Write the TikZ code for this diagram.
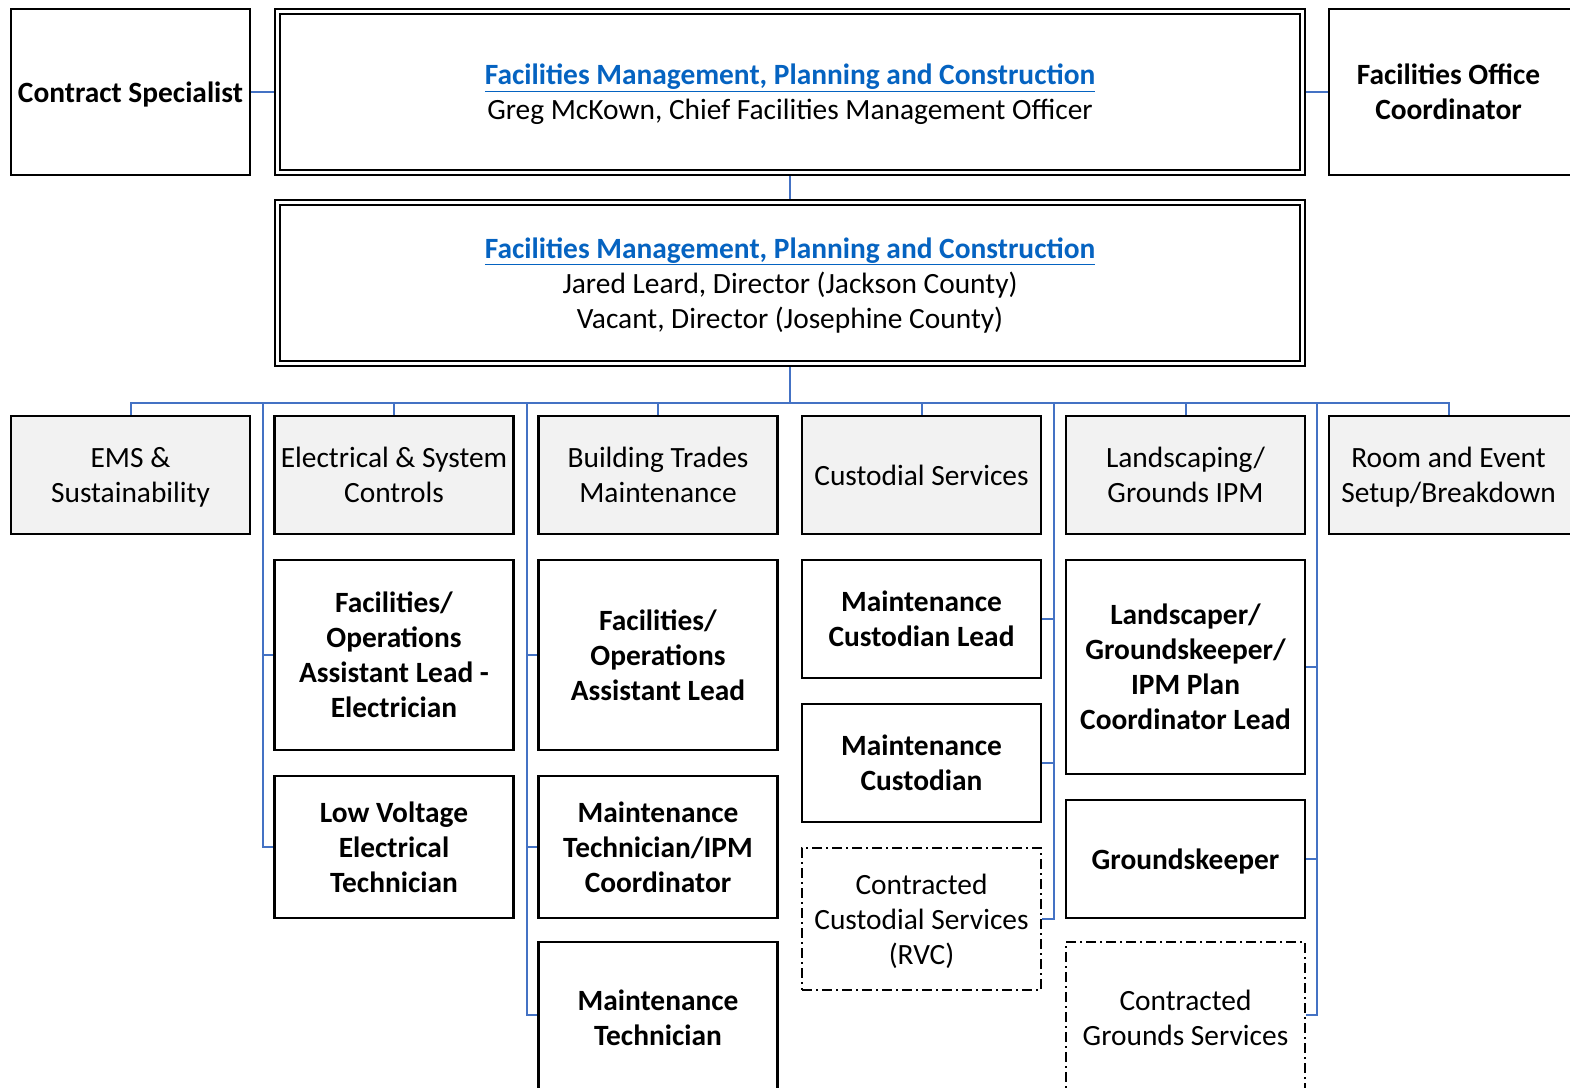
\documentclass[tikz,border=0pt]{standalone}
\usepackage{fontspec}
\setmainfont{Carlito}
\usetikzlibrary{backgrounds}
\definecolor{linkblue}{HTML}{0563C1}
\definecolor{conblue}{HTML}{4472C4}
\definecolor{boxgray}{HTML}{F2F2F2}
\newcommand{\linktext}[1]{\textcolor{linkblue}{\underline{\textbf{#1}}}}
\newcommand{\tl}[1]{\raisebox{0pt}[\dimexpr\height+6pt\relax]{\begin{tabular}{@{}c@{}}#1\end{tabular}}}
\newcommand{\leftpart}[1]{\makebox[239pt]{\tl{#1}}\hspace*{31pt}}
\begin{document}
\begin{tikzpicture}[x=1pt,y=-1pt,
  every node/.style={font=\fontsize{29.4}{35}\selectfont, inner sep=0pt},
  box/.style={draw=black, line width=2.5pt, fill=white, minimum width=239pt},
  graybox/.style={box, fill=boxgray, minimum height=118pt},
  boldtext/.style={font=\fontsize{29.4}{35}\selectfont\bfseries},
  dashbox/.style={box, line width=2pt, dash pattern=on 10pt off 4pt on 2pt off 4pt},
  mainbox/.style={draw=black, line width=2pt, double=white, double distance=3pt, fill=white, minimum width=1025pt, minimum height=161pt},
  con/.style={draw=conblue, line width=2pt},
]
\useasboundingbox (0,0) rectangle (1570,1087);

% top row
\node[box, boldtext, minimum height=166pt] (cs) at (130.5,92) {\tl{Contract Specialist}};
\node[mainbox] (m1) at (790,92) {\tl{\linktext{Facilities Management, Planning and Construction}\\Greg McKown, Chief Facilities Management Officer}};
\node[box, boldtext, minimum height=166pt, minimum width=270pt] (foc) at (1464,92) {\leftpart{Facilities Office\\Coordinator}};

% second level
\node[mainbox] (m2) at (790,283) {\tl{\linktext{Facilities Management, Planning and Construction}\\Jared Leard, Director (Jackson County)\\Vacant, Director (Josephine County)}};

% department row
\node[graybox] (ems) at (130.5,475) {\tl{EMS \&\\Sustainability}};
\node[graybox] (elec) at (394,475) {\tl{Electrical \& System\\Controls}};
\node[graybox] (bld) at (658,475) {\tl{Building Trades\\Maintenance}};
\node[graybox] (cust) at (921.5,475) {\tl{Custodial Services}};
\node[graybox] (land) at (1185.5,475) {\tl{Landscaping/\\Grounds IPM}};
\node[graybox, minimum width=270pt] (room) at (1464,475) {\leftpart{Room and Event\\Setup/Breakdown}};

% electrical column
\node[box, boldtext, minimum height=190pt] (e1) at (394,655) {\tl{Facilities/\\Operations\\Assistant Lead -\\Electrician}};
\node[box, boldtext, minimum height=142pt] (e2) at (394,847) {\tl{Low Voltage\\Electrical\\Technician}};

% building column
\node[box, boldtext, minimum height=190pt] (b1) at (658,655) {\tl{Facilities/\\Operations\\Assistant Lead}};
\node[box, boldtext, minimum height=142pt] (b2) at (658,847) {\tl{Maintenance\\Technician/IPM\\Coordinator}};
\node[box, boldtext, minimum height=152pt] (b3) at (658,1018) {\tl{Maintenance\\Technician}};

% custodial column
\node[box, boldtext, minimum height=118pt] (c1) at (921.5,619) {\tl{Maintenance\\Custodian Lead}};
\node[box, boldtext, minimum height=118pt] (c2) at (921.5,763) {\tl{Maintenance\\Custodian}};
\node[dashbox, minimum height=142pt] (c3) at (921.5,919) {\tl{Contracted\\Custodial Services\\(RVC)}};

% landscaping column
\node[box, boldtext, minimum height=214pt] (d1) at (1185.5,667) {\tl{Landscaper/\\Groundskeeper/\\IPM Plan\\Coordinator Lead}};
\node[box, boldtext, minimum height=118pt] (d2) at (1185.5,859) {\tl{Groundskeeper}};
\node[dashbox, minimum height=152pt] (d3) at (1185.5,1018) {\tl{Contracted\\Grounds Services}};

% helper coordinates
\coordinate (bus) at (790,403);
\coordinate (roomtop) at (1449,415);
\coordinate (spE) at (263,403);
\coordinate (spB) at (527,403);
\coordinate (spC) at (1053.5,403);
\coordinate (spD) at (1317,403);
\coordinate (b3con) at (538,1015);
\coordinate (d3con) at (1306,1015);

\begin{scope}[on background layer]
  \draw[con] (cs.east) -- (m1.west);
  \draw[con] (m1.east) -- (foc.west);
  \draw[con] (m1.south) -- (m2.north);
  \draw[con] (m2.south) -- (bus);
  \draw[con] (ems.north) -- (ems.north |- bus) -- (roomtop |- bus) -- (roomtop);
  \foreach \n in {elec,bld,cust,land}
    \draw[con] (\n.north) -- (\n.north |- bus);
  % electrical
  \draw[con] (e2.west) -| (spE);
  \draw[con] (e1.west) -- (e1.west -| spE);
  % building
  \draw[con] (b3con) -| (spB);
  \draw[con] (b1.west) -- (b1.west -| spB);
  \draw[con] (b2.west) -- (b2.west -| spB);
  % custodial
  \draw[con] (c3.east) -| (spC);
  \draw[con] (c1.east) -- (c1.east -| spC);
  \draw[con] (c2.east) -- (c2.east -| spC);
  % landscaping
  \draw[con] (d3con) -| (spD);
  \draw[con] (d1.east) -- (d1.east -| spD);
  \draw[con] (d2.east) -- (d2.east -| spD);
\end{scope}
\end{tikzpicture}
\end{document}
